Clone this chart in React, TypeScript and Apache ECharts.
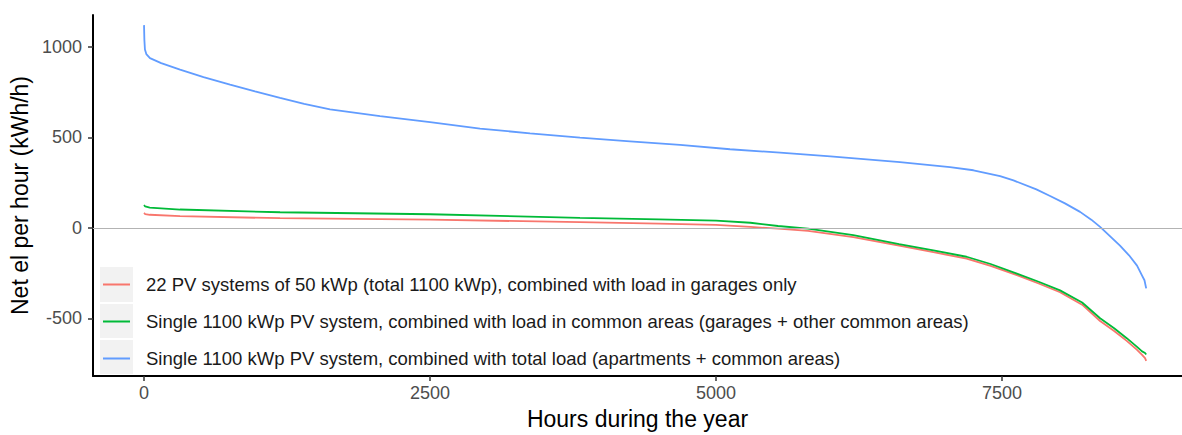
import React, { useEffect, useRef } from "react";
import * as echarts from "echarts";

const seriesNames = [
  "22 PV systems of 50 kWp (total 1100 kWp), combined with load in garages only",
  "Single 1100 kWp PV system, combined with load in common areas (garages + other common areas)",
  "Single 1100 kWp PV system, combined with total load (apartments + common areas)",
];

const redHours = [0, 10, 50, 315, 1189, 2500, 3811, 4500, 5000, 5300, 5542, 5804, 6200, 6600, 6900, 7190, 7400, 7630, 7820, 8007, 8200, 8357, 8480, 8590, 8680, 8724, 8750, 8760];
const redValues = [82, 76, 72, 64, 53, 45, 31, 23, 16, 5, -5, -17, -52, -98, -135, -170, -210, -262, -308, -356, -425, -515, -570, -625, -675, -702, -720, -735];

const greenHours = [0, 10, 50, 315, 1189, 2500, 3811, 4500, 5000, 5300, 5542, 5804, 6200, 6600, 6900, 7190, 7400, 7630, 7820, 8007, 8200, 8357, 8480, 8590, 8680, 8724, 8750, 8760];
const greenValues = [126, 118, 112, 101, 86, 75, 55, 47, 40, 28, 10, -5, -40, -90, -125, -160, -200, -253, -298, -346, -413, -500, -555, -610, -658, -683, -692, -700];

const blueHours = [0, 3, 8, 20, 52, 150, 315, 520, 752, 970, 1189, 1400, 1626, 2063, 2500, 2937, 3374, 3811, 4248, 4685, 5122, 5560, 6000, 6608, 7045, 7250, 7483, 7600, 7800, 7920, 8050, 8182, 8280, 8357, 8450, 8531, 8610, 8680, 8724, 8745, 8760];
const blueValues = [1120, 1040, 985, 960, 938, 910, 874, 833, 791, 754, 718, 685, 654, 617, 584, 548, 522, 498, 478, 458, 434, 415, 395, 363, 335, 318, 286, 262, 212, 176, 135, 88, 45, 5, -50, -99, -152, -209, -264, -290, -335];

const xTicks = [0, 2500, 5000, 7500];
const yTicks = [-500, 0, 500, 1000];

const colors = ["#F8766D", "#00BA38", "#619CFF"];

const zip = (xs: number[], ys: number[]) => xs.map((x, i) => [x, ys[i]]);

export default function App() {
  const ref = useRef<HTMLDivElement>(null);
  useEffect(() => {
    if (!ref.current) return;
    const chart = echarts.init(ref.current, null, { renderer: "svg" });
    const font = "Liberation Sans, Arial, Helvetica, sans-serif";
    const data = [zip(redHours, redValues), zip(greenHours, greenValues), zip(blueHours, blueValues)];
    chart.setOption({
      animation: false,
      backgroundColor: "#ffffff",
      textStyle: { fontFamily: font },
      grid: { left: 93, right: 0, top: 15, bottom: 57 },
      xAxis: {
        type: "value",
        min: -446,
        max: 9073,
        name: "Hours during the year",
        nameLocation: "middle",
        nameGap: 31,
        nameTextStyle: { fontSize: 23, color: "#000000", fontFamily: font },
        axisLine: { show: true, onZero: false, lineStyle: { color: "#000000", width: 2 } },
        axisTick: { show: true, length: 5, customValues: xTicks, lineStyle: { color: "#333333", width: 1.5 } },
        axisLabel: {
          customValues: xTicks,
          margin: 8,
          fontSize: 18,
          color: "#4d4d4d",
          fontFamily: font,
          formatter: (v: number) => String(v),
        },
        splitLine: { show: false },
      },
      yAxis: {
        type: "value",
        min: -819,
        max: 1176,
        name: "Net el per hour (kWh/h)",
        nameLocation: "middle",
        nameGap: 55,
        nameTextStyle: { fontSize: 23, color: "#000000", fontFamily: font },
        axisLine: { show: true, onZero: false, lineStyle: { color: "#000000", width: 2 } },
        axisTick: { show: true, length: 5, customValues: yTicks, lineStyle: { color: "#333333", width: 1.5 } },
        axisLabel: {
          customValues: yTicks,
          margin: 11,
          fontSize: 18,
          color: "#4d4d4d",
          fontFamily: font,
          formatter: (v: number) => String(v),
        },
        splitLine: { show: false },
      },
      legend: {
        orient: "vertical",
        left: 103,
        top: 274,
        padding: 0,
        itemWidth: 27,
        itemHeight: 2,
        itemGap: 16,
        icon: "rect",
        z: 10,
        data: seriesNames,
        textStyle: { fontSize: 18.5, color: "#1a1a1a", fontFamily: font, padding: [0, 0, 0, 11], lineHeight: 21 },
      },
      graphic: [
        { type: "rect", z: 1, shape: { x: 100, y: 267, width: 33, height: 35 }, style: { fill: "#f2f2f2" } },
        { type: "rect", z: 1, shape: { x: 100, y: 304, width: 33, height: 34 }, style: { fill: "#f2f2f2" } },
        { type: "rect", z: 1, shape: { x: 100, y: 340, width: 33, height: 34 }, style: { fill: "#f2f2f2" } },
      ],
      series: seriesNames.map((name, i) => ({
        name,
        type: "line",
        data: data[i],
        showSymbol: false,
        symbol: "none",
        smooth: false,
        color: colors[i],
        lineStyle: { color: colors[i], width: 1.8 },
        z: 2 + i,
        ...(i === 0
          ? {
              markLine: {
                silent: true,
                symbol: ["none", "none"],
                label: { show: false },
                lineStyle: { color: "#b3b3b3", width: 1.2, type: "solid" },
                data: [{ yAxis: 0 }],
              },
            }
          : {}),
      })),
    });
    return () => chart.dispose();
  }, []);
  return (
    <div
      ref={ref}
      style={{ position: "absolute", left: 0, top: 0, width: 1182, height: 435, background: "#ffffff" }}
    />
  );
}
